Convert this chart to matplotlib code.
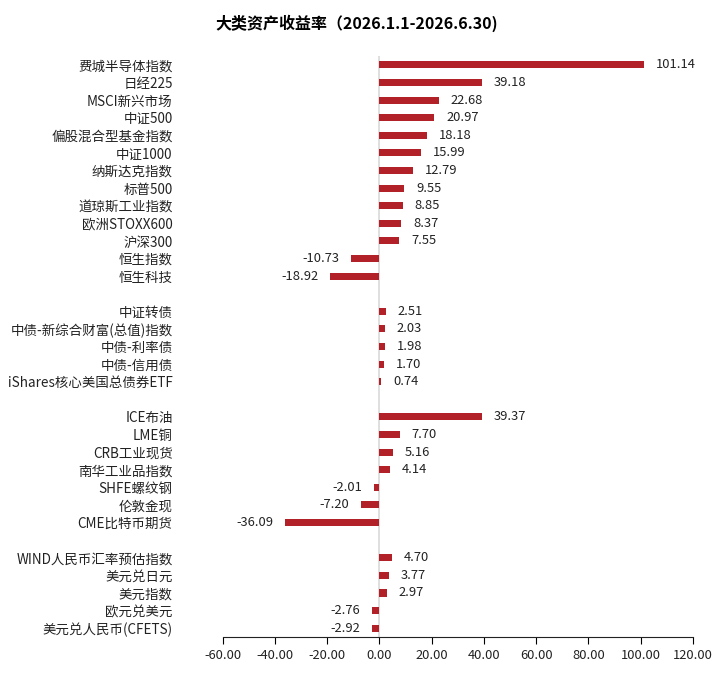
import numpy as np
import matplotlib.pyplot as plt

plt.rcParams['font.family'] = ['Noto Sans CJK SC', 'DejaVu Sans']
plt.rcParams['axes.unicode_minus'] = False

# groups of assets, separated by an empty row in the chart
equity = ["费城半导体指数", "日经225", "MSCI新兴市场", "中证500", "偏股混合型基金指数",
          "中证1000", "纳斯达克指数", "标普500", "道琼斯工业指数", "欧洲STOXX600",
          "沪深300", "恒生指数", "恒生科技"]
equity_vals = [101.14, 39.18, 22.68, 20.97, 18.18, 15.99, 12.79, 9.55, 8.85, 8.37,
               7.55, -10.73, -18.92]

bonds = ["中证转债", "中债-新综合财富(总值)指数", "中债-利率债", "中债-信用债",
         "iShares核心美国总债券ETF"]
bond_vals = [2.51, 2.03, 1.98, 1.70, 0.74]

commod = ["ICE布油", "LME铜", "CRB工业现货", "南华工业品指数", "SHFE螺纹钢",
          "伦敦金现", "CME比特币期货"]
commod_vals = [39.37, 7.70, 5.16, 4.14, -2.01, -7.20, -36.09]

fx = ["WIND人民币汇率预估指数", "美元兑日元", "美元指数", "欧元兑美元", "美元兑人民币(CFETS)"]
fx_vals = [4.70, 3.77, 2.97, -2.76, -2.92]

groups = [(equity, equity_vals), (bonds, bond_vals), (commod, commod_vals), (fx, fx_vals)]

labels = []
values = []
pos = []
y = 0
for names, vals in groups:
    for n, v in zip(names, vals):
        labels.append(n)
        values.append(v)
        pos.append(y)
        y += 1
    y += 1  # blank row between groups
pos = np.array(pos)

fig = plt.figure(figsize=(7.23, 6.76), dpi=100)
ax = fig.add_axes([0.308, 0.0577, 0.6505, 0.8593])

color = "#B22028"
ax.barh(pos, values, height=0.4, color=color, zorder=3)
ax.axvline(0, color="#D9D9D9", lw=1.2, zorder=2)

for p, v in zip(pos, values):
    if v >= 0:
        ax.text(v + 4.5, p, f"{v:.2f}", va="center", ha="left", fontsize=9.3, color="#222222")
    else:
        ax.text(v - 4.5, p, f"{v:.2f}", va="center", ha="right", fontsize=9.3, color="#222222")

ticks = np.arange(-60, 121, 20)
ax.set_xlim(-60, 120)
ax.set_xticks(ticks)
ax.set_xticklabels([f"{t:.2f}" for t in ticks], fontsize=9.3, color="#222222")
ax.set_ylim(pos[-1] + 0.5, -0.5)
ax.set_yticks(pos)
ax.set_yticklabels(labels, fontsize=9.7, color="#222222")
ax.tick_params(axis="y", length=0, pad=36)
ax.tick_params(axis="x", length=5, width=0.8, direction="out", pad=4)

for s in ["top", "right", "left"]:
    ax.spines[s].set_visible(False)
ax.spines["bottom"].set_color("#222222")
ax.spines["bottom"].set_linewidth(0.8)

fig.suptitle("大类资产收益率（2026.1.1-2026.6.30)", x=0.494, y=0.978, fontsize=11.5,
             fontweight="bold")

fig.savefig("out.png", dpi=100)
